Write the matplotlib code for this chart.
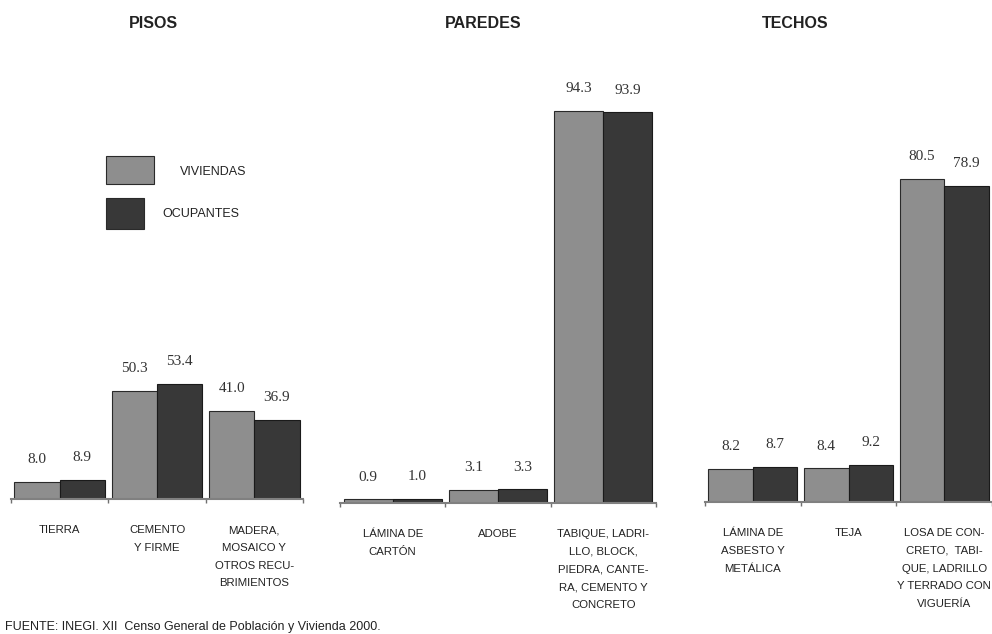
import matplotlib
matplotlib.use("Agg")
import matplotlib.pyplot as plt
from matplotlib.patches import Rectangle
import numpy as np

# ---- data ----
titles = ["PISOS", "PAREDES", "TECHOS"]
pisos_cats = ["TIERRA", "CEMENTO\nY FIRME", "MADERA,\nMOSAICO Y\nOTROS RECU-\nBRIMIENTOS"]
pisos_viv = [8.0, 50.3, 41.0]
pisos_ocu = [8.9, 53.4, 36.9]
paredes_cats = ["LÁMINA DE\nCARTÓN", "ADOBE",
                "TABIQUE, LADRI-\nLLO, BLOCK,\nPIEDRA, CANTE-\nRA, CEMENTO Y\nCONCRETO"]
paredes_viv = [0.9, 3.1, 94.3]
paredes_ocu = [1.0, 3.3, 93.9]
techos_cats = ["LÁMINA DE\nASBESTO Y\nMETÁLICA", "TEJA",
               "LOSA DE CON-\nCRETO,  TABI-\nQUE, LADRILLO\nY TERRADO CON\nVIGUERÍA"]
techos_viv = [8.2, 8.4, 80.5]
techos_ocu = [8.7, 9.2, 78.9]
legend_labels = ["VIVIENDAS", "OCUPANTES"]
source = "FUENTE: INEGI. XII  Censo General de Población y Vivienda 2000."

LIGHT = "#8e8e8e"
DARK = "#383838"

W, H = 992, 634
fig = plt.figure(figsize=(W / 100, H / 100), dpi=100)

def px_axes(x0, x1, ybot, ytop):
    return fig.add_axes([x0 / W, 1 - ybot / H, (x1 - x0) / W, (ybot - ytop) / H])

panels = [
    (pisos_cats, pisos_viv, pisos_ocu, (11, 303, 499, 284), 153),
    (paredes_cats, paredes_viv, paredes_ocu, (340, 656, 503, 87), 483),
    (techos_cats, techos_viv, techos_ocu, (705, 992, 502, 101), 795),
]

bw = 0.465
for (cats, viv, ocu, box, tx), title in zip(panels, titles):
    ax = px_axes(*box)
    x = np.arange(len(cats))
    b1 = ax.bar(x - bw / 2, viv, bw, color=LIGHT, edgecolor="#2a2a2a", linewidth=0.8)
    b2 = ax.bar(x + bw / 2, ocu, bw, color=DARK, edgecolor="#1a1a1a", linewidth=0.8)
    for bars, vals in ((b1, viv), (b2, ocu)):
        for r, v in zip(bars, vals):
            ax.annotate(f"{v:.1f}", (r.get_x() + r.get_width() / 2, v),
                        xytext=(0, 16), textcoords="offset points",
                        ha="center", va="center", fontsize=11,
                        family="Liberation Serif", color="#333333")
    ax.set_xlim(-0.5, len(cats) - 0.5)
    ax.set_ylim(0, 100)
    ax.set_xticks(x)
    ax.set_xticklabels(cats, fontsize=8.2, family="Liberation Sans",
                       linespacing=1.95, color="#222222")
    ax.tick_params(axis="x", which="major", length=0, pad=19)
    ax.set_xticks(np.arange(len(cats) + 1) - 0.5, minor=True)
    ax.tick_params(axis="x", which="minor", length=3, width=1, color="#707070")
    ax.set_yticks([])
    for s in ("top", "right", "left"):
        ax.spines[s].set_visible(False)
    ax.spines["bottom"].set_color("#808080")
    ax.spines["bottom"].set_linewidth(1.5)
    fig.text(tx / W, 1 - 23 / H, title, ha="center", va="center",
             fontsize=11.5, fontweight="bold", family="Liberation Sans", color="#222222")

# legend
def px_rect(x0, y0, x1, y1, color):
    fig.add_artist(Rectangle((x0 / W, 1 - y1 / H), (x1 - x0) / W, (y1 - y0) / H,
                             transform=fig.transFigure, facecolor=color,
                             edgecolor="#2a2a2a", linewidth=0.8))

px_rect(106, 156, 154, 184, LIGHT)
px_rect(106, 198, 144, 229, DARK)
fig.text(180 / W, 1 - 172 / H, legend_labels[0], ha="left", va="center",
         fontsize=9, family="Liberation Sans", color="#222222")
fig.text(162 / W, 1 - 214 / H, legend_labels[1], ha="left", va="center",
         fontsize=9, family="Liberation Sans", color="#222222")

fig.text(5 / W, 1 - 627 / H, source, ha="left", va="center",
         fontsize=9, family="Liberation Sans", color="#222222")

fig.savefig("out.png", dpi=100)
